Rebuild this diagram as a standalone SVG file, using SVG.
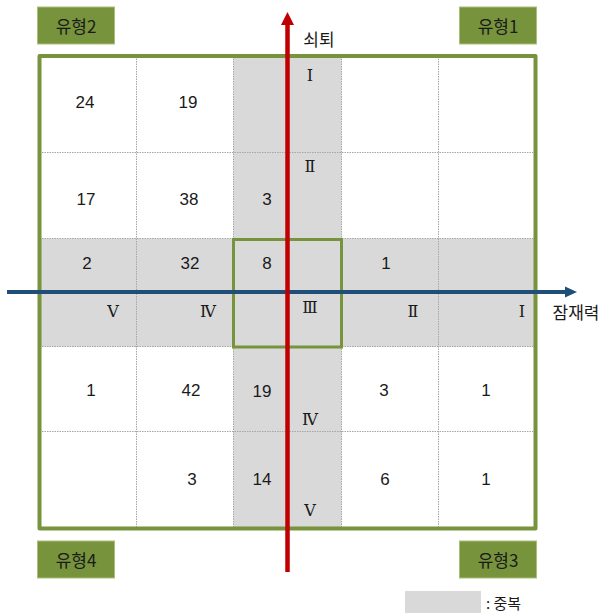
<svg xmlns="http://www.w3.org/2000/svg" width="604" height="613" viewBox="0 0 604 613">
<defs>
<style>
.num{font-family:"Liberation Sans","Noto Sans CJK KR",sans-serif;font-size:17px;fill:#1a1a1a;text-anchor:middle;dominant-baseline:central}
.rom{font-family:"Liberation Serif","DejaVu Serif","Noto Sans CJK KR",serif;font-size:16px;fill:#1a1a1a;text-anchor:middle;dominant-baseline:central}
.kr{font-family:"Noto Sans CJK KR","Liberation Sans",sans-serif;font-size:17px;fill:#1a1a1a;text-anchor:middle;dominant-baseline:central}
.grid{stroke:#a6a6a6;stroke-width:1;stroke-dasharray:1.5,1;fill:none}
.shade{fill:#d9d9d9}
.tbox{fill:#77933c;stroke:#a9c07a;stroke-width:1}
</style>
</defs>
<rect x="0" y="0" width="604" height="613" fill="#ffffff"/>
<g id="shading">
<rect class="shade" x="233.5" y="56" width="108" height="472.5"/>
<rect class="shade" x="39.5" y="238.5" width="496" height="108"/>
</g>
<g id="grid">
<line class="grid" x1="136.5" y1="56" x2="136.5" y2="528.5"/>
<line class="grid" x1="233.5" y1="56" x2="233.5" y2="528.5"/>
<line class="grid" x1="341.5" y1="56" x2="341.5" y2="528.5"/>
<line class="grid" x1="438.5" y1="56" x2="438.5" y2="528.5"/>
<line class="grid" x1="39.5" y1="152.5" x2="535.5" y2="152.5"/>
<line class="grid" x1="39.5" y1="238.5" x2="535.5" y2="238.5"/>
<line class="grid" x1="39.5" y1="346.5" x2="535.5" y2="346.5"/>
<line class="grid" x1="39.5" y1="431.5" x2="535.5" y2="431.5"/>
</g>
<g id="frame">
<rect x="39.5" y="56" width="496" height="472.5" fill="none" stroke="#77933c" stroke-width="4" stroke-linejoin="round"/>
<rect x="233.5" y="239.5" width="108" height="107.5" fill="none" stroke="#77933c" stroke-width="3"/>
</g>
<g id="type2"><rect class="tbox" x="37.5" y="7" width="77" height="37"/><text class="kr" x="76" y="25.5">유형2</text></g>
<g id="type1"><rect class="tbox" x="459.5" y="7" width="77" height="37"/><text class="kr" x="498" y="25.5">유형1</text></g>
<g id="type4"><rect class="tbox" x="37.5" y="541" width="77" height="37"/><text class="kr" x="76" y="559.5">유형4</text></g>
<g id="type3"><rect class="tbox" x="459.5" y="541" width="77" height="37"/><text class="kr" x="498" y="559.5">유형3</text></g>
<g id="numbers">
<text class="num" x="85" y="102">24</text>
<text class="num" x="188" y="102">19</text>
<text class="num" x="86" y="199">17</text>
<text class="num" x="189" y="199">38</text>
<text class="num" x="267" y="199">3</text>
<text class="num" x="87" y="263">2</text>
<text class="num" x="190" y="263">32</text>
<text class="num" x="267" y="263">8</text>
<text class="num" x="386" y="263">1</text>
<text class="num" x="91" y="390">1</text>
<text class="num" x="191" y="390">42</text>
<text class="num" x="262" y="391">19</text>
<text class="num" x="384" y="390">3</text>
<text class="num" x="486" y="390">1</text>
<text class="num" x="192" y="479">3</text>
<text class="num" x="262" y="479">14</text>
<text class="num" x="385" y="479">6</text>
<text class="num" x="486" y="479">1</text>
</g>
<g id="roman">
<text class="rom" x="310" y="75">Ⅰ</text>
<text class="rom" x="310" y="166">Ⅱ</text>
<text class="rom" x="310" y="307">Ⅲ</text>
<text class="rom" x="310" y="419">Ⅳ</text>
<text class="rom" x="310" y="510">Ⅴ</text>
<text class="rom" x="113" y="311">Ⅴ</text>
<text class="rom" x="208" y="311">Ⅳ</text>
<text class="rom" x="413" y="311">Ⅱ</text>
<text class="rom" x="522" y="311">Ⅰ</text>
</g>
<g id="connectors">
<line x1="7" y1="292" x2="566" y2="292" stroke="#1f4e79" stroke-width="4"/>
<polygon points="577,292 565,286.5 565,297.5" fill="#1f4e79"/>
<line x1="287.5" y1="572" x2="287.5" y2="24" stroke="#c00000" stroke-width="4.5"/>
<polygon points="287.5,12 281,25 294,25" fill="#c00000"/>
</g>
<g id="axis-labels">
<text class="kr" x="319" y="38">쇠퇴</text>
<text class="kr" x="576" y="311">잠재력</text>
</g>
<g id="legend">
<rect class="shade" x="405" y="591" width="76" height="22"/>
<text font-family="Noto Sans CJK KR, Liberation Sans, sans-serif" font-size="15" fill="#1a1a1a" x="486" y="602" dominant-baseline="central">: 중복</text>
</g>
</svg>
